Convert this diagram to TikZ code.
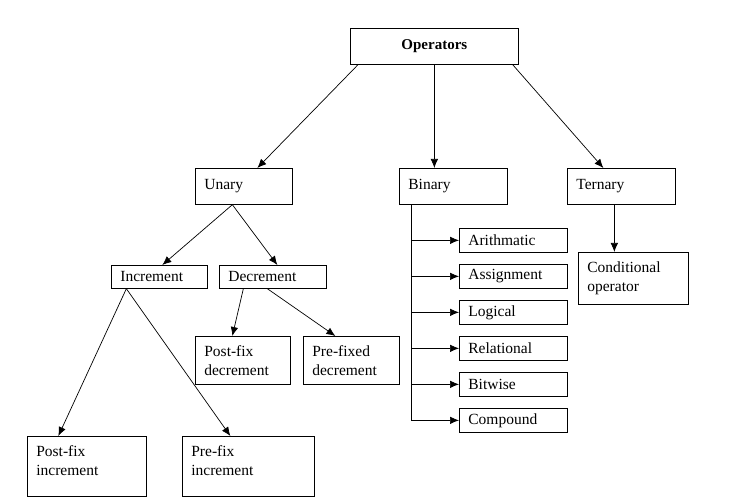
\documentclass[tikz,border=0pt]{standalone}
\usepackage{fontspec}
\setmainfont{Liberation Serif}
\usepackage{tikz}
\usetikzlibrary{calc,arrows.meta}

\begin{document}
\begin{tikzpicture}[x=1pt,y=-1pt,line width=0.7pt]
                      \tikzstyle{box}=[draw,anchor=north west,align=left,inner xsep=9pt,inner ysep=0pt,font=\fontsize{15.5}{19}\selectfont]
                      \tikzstyle{arr}=[-{Latex[length=9pt,width=7.5pt]}]
                      \useasboundingbox (0,0) rectangle (733,502);
                      \node[box,align=center,text width=150pt,minimum height=36pt,font=\fontsize{15}{19}\selectfont\bfseries] (ops) at (350,28) {Operators};
                      \node[box,text width=79pt,minimum height=36pt] (unary) at (195,168) {Unary};
                      \node[box,text width=90pt,minimum height=36pt] (binary) at (399,168) {Binary};
                      \node[box,text width=90pt,minimum height=36pt] (ternary) at (567,168) {Ternary};
                      \node[box,text width=78pt,minimum height=23pt] (inc) at (111,265) {Increment};
                      \node[box,text width=89pt,minimum height=23pt] (dec) at (219,265) {Decrement};
                      \node[box,text width=77pt,minimum height=48pt] (postdec) at (195,336) {Post-fix\\decrement};
                      \node[box,text width=78pt,minimum height=48pt] (predec) at (303,336) {Pre-fixed\\decrement};
                      \node[box,text width=101pt,minimum height=60pt,text depth=30pt] (postinc) at (27,436) {Post-fix\\increment};
                      \node[box,text width=114pt,minimum height=60pt,text depth=30pt] (preinc) at (182,436) {Pre-fix\\increment};
                      \node[box,text width=92pt,minimum height=52pt] (cond) at (578,252) {Conditional\\operator};
                      \node[box,text width=90pt,minimum height=24pt] (arith) at (459,228) {Arithmatic};
                      \node[box,text width=90pt,minimum height=24pt] (assign) at (459,264) {Assignment};
                      \node[box,text width=90pt,minimum height=24pt] (logic) at (459,300) {Logical};
                      \node[box,text width=90pt,minimum height=24pt] (rel) at (459,336) {Relational};
                      \node[box,text width=90pt,minimum height=24pt] (bit) at (459,372) {Bitwise};
                      \node[box,text width=90pt,minimum height=24pt] (comp) at (459,408) {Compound};
                      % top level
                      \draw[arr] ([xshift=8pt]ops.south west) -- ([xshift=13.5pt]unary.north);
                      \draw[arr] (ops.south) -- (ops.south |- binary.north);
                      \draw[arr] ([xshift=-6pt]ops.south east) -- ([xshift=-18pt]ternary.north);
                      % unary
                      \draw[arr] ([xshift=-11.5pt]unary.south) -- ([xshift=3pt]inc.north);
                      \draw[arr] ([xshift=-11.5pt]unary.south) -- ([xshift=4.5pt]dec.north);
                      \draw[arr] ([xshift=-29.5pt]dec.south) -- ([xshift=-10.5pt]postdec.north);
                      \draw[arr] ([xshift=-5.5pt]dec.south) -- ([xshift=-16pt]predec.north);
                      \draw[arr] ([xshift=-33pt]inc.south) -- ([xshift=-28.5pt]postinc.north);
                      \draw[arr] ([xshift=-33pt]inc.south) -- ([xshift=-18pt]preinc.north);
                      % binary
                      \coordinate (spine) at ([xshift=12pt]binary.south west);
                      \draw (spine) -- (spine |- comp.west);
                      \foreach \b in {arith,assign,logic,rel,bit,comp}
                        \draw[arr] (spine |- \b.west) -- (\b.west);
                      % ternary
                      \draw[arr] ([xshift=-7pt]ternary.south) -- ([xshift=-7pt]ternary.south |- cond.north);
                  \end{tikzpicture}
\end{document}
